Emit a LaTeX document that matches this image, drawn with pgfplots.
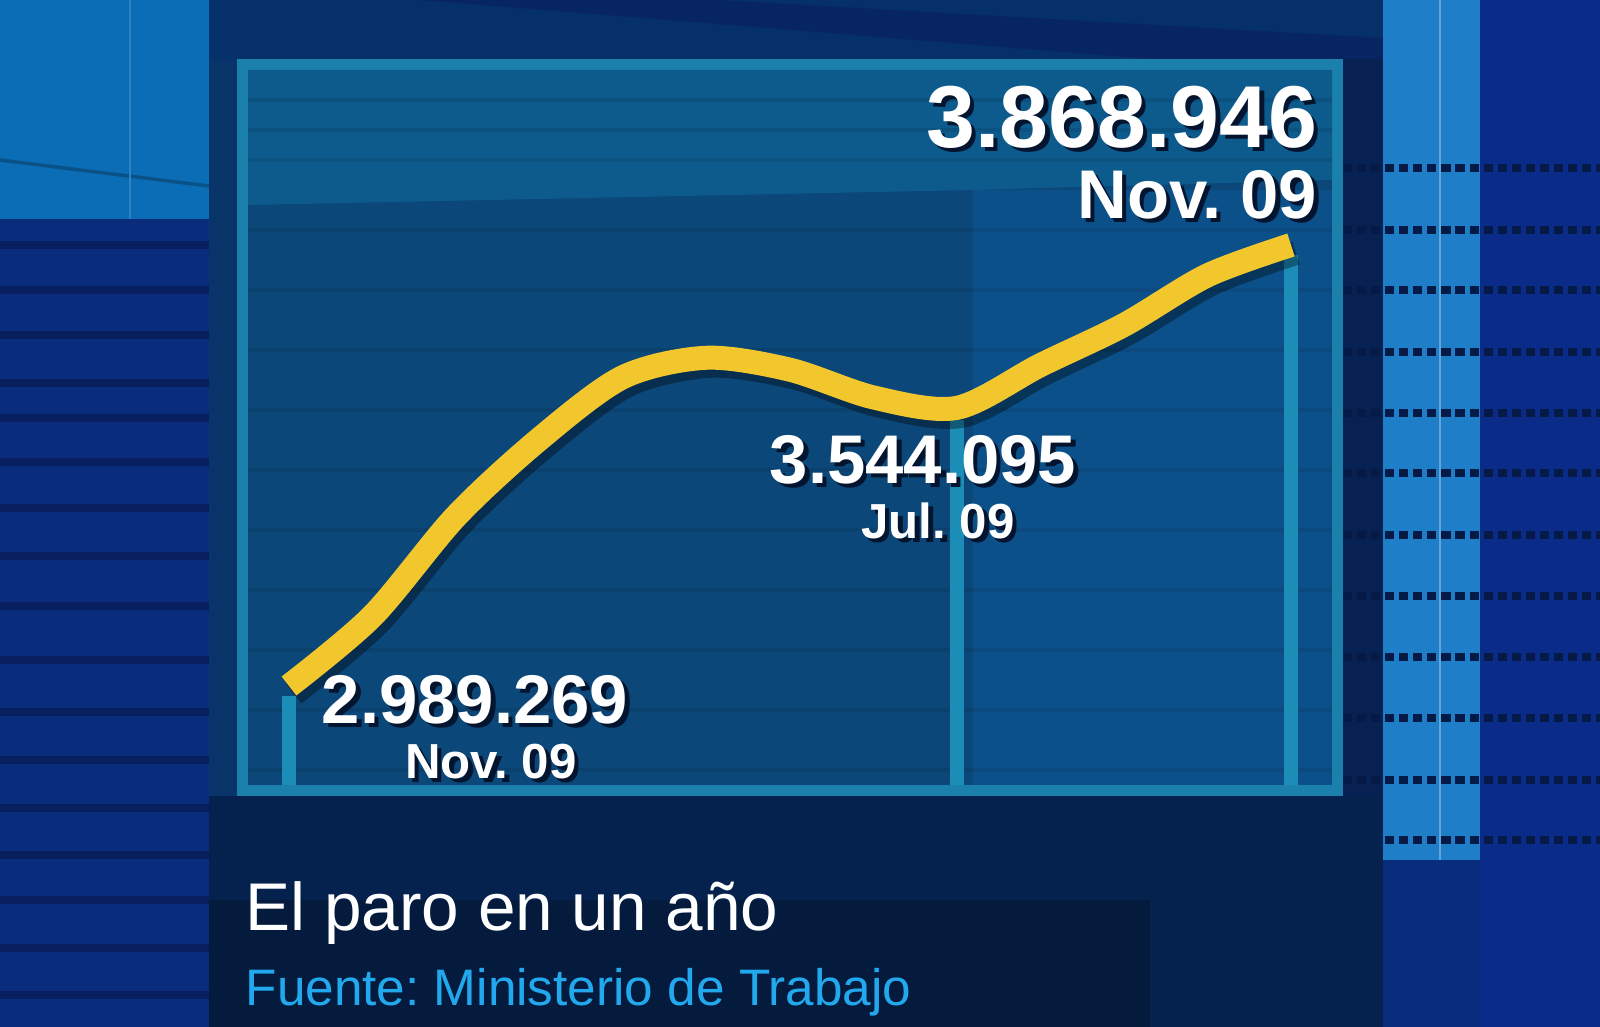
\documentclass[border=0pt]{standalone}
\usepackage{pgfplots}
\pgfplotsset{compat=1.18}
\usepackage{fontspec}
\setmainfont{Liberation Sans}
\frenchspacing
\definecolor{yel}{HTML}{F2C72E}
\definecolor{frame}{HTML}{1B80AC}
\definecolor{boxin}{HTML}{0B4778}
\definecolor{boxtop}{HTML}{0D5A8D}
\definecolor{boxright}{HTML}{0C5089}
\definecolor{vline}{HTML}{1C8DB6}
\definecolor{navy}{HTML}{0A2C7C}
\definecolor{navydark}{HTML}{071F5E}
\definecolor{lblue}{HTML}{0B6DB6}
\definecolor{mid}{HTML}{08346A}
\definecolor{midtop}{HTML}{06306A}
\definecolor{bottom}{HTML}{05214D}
\definecolor{rlight}{HTML}{1E7EC8}
\definecolor{rnavy}{HTML}{0A2C88}
\definecolor{dots}{HTML}{061A48}
\definecolor{fuente}{HTML}{22A8EC}
\definecolor{shad}{HTML}{03142E}
\newcommand{\stxt}[5]{%
  \node[anchor=#3,inner sep=0pt,text=white] at (#1,#2)
   {#4\makebox[0pt][l]{\hspace{0.45mm}\raisebox{-0.4mm}[0pt][0pt]{\color{shad}#5}}#5};}
\pgfplotstableread{
m v
0 2.989269
1 3.128963
2 3.327801
3 3.481859
4 3.605402
5 3.644041
6 3.620139
7 3.564889
8 3.544095
9 3.629322
10 3.709447
11 3.808353
12 3.868946
}\paro
\begin{document}
\begin{tikzpicture}
\begin{scope}[x=0.1mm,y=-0.1mm]
\useasboundingbox (0,0) rectangle (1600,1027);
\fill[navy] (0,0) rectangle (1600,1027);
% left top light panel
\fill[lblue] (0,0) rectangle (209,219);
\draw[lblue!75!black,line width=1pt] (0,160) -- (209,186);
\draw[lblue!85!white,line width=0.6pt] (130,0) -- (130,219);
% left stripes
\foreach \yy in {245,290,335,383,418,462,508,556,606,660,712,760,808,855,900,948,995}
  \draw[navydark,line width=2pt] (0,\yy) -- (209,\yy);
% middle column
\fill[mid] (209,0) rectangle (1383,800);
\fill[midtop] (209,0) rectangle (1383,59);
\fill[navydark,opacity=0.6] (420,0) -- (720,0) -- (1383,38) -- (1383,59) -- (1150,59) -- cycle;
% right columns
\fill[dots!70!mid] (1343,59) rectangle (1383,800);
\fill[rlight] (1383,0) rectangle (1480,860);
\draw[rlight!70!white,line width=0.6pt] (1440,0) -- (1440,860);
\fill[rnavy] (1480,0) rectangle (1600,1027);
\foreach \yy in {168,230,290,352,413,473,535,596,657,718,780,840}
  \draw[dots,line width=2pt,dash pattern=on 2.6pt off 1.4pt] (1343,\yy) -- (1600,\yy);
% bottom
\fill[bottom] (209,796) rectangle (1383,1027);
\fill[bottom!80!black] (209,900) rectangle (1150,1027);
% box
\fill[frame] (237,59) rectangle (1343,796);
\fill[boxin] (248,70) rectangle (1332,785);
\fill[boxright] (973,190) rectangle (1332,785);
\fill[boxtop] (248,70) -- (1332,70) -- (1332,180) -- (973,190) -- (248,205) -- cycle;
\foreach \yy in {100,130,160,230,290,350,410,470,530,590,650,710,770}
  \draw[black,opacity=0.08,line width=1pt] (248,\yy) -- (1332,\yy);
\end{scope}
\begin{axis}[at={(24.8mm,-78.5mm)}, anchor=south west, scale only axis,
  width=108.4mm, height=71.5mm, hide axis, clip=false,
  xmin=-0.491, xmax=12.491, ymin=2.79178, ymax=4.21804]
\addplot[vline, line width=1.4mm] coordinates {(0,2.79178) (0,2.97)};
\addplot[vline, line width=1.4mm] coordinates {(8,2.79178) (8,3.52)};
\addplot[vline, line width=1.4mm] coordinates {(12,2.79178) (12,3.85)};
\addplot[black, opacity=0.35, line width=2.4mm, smooth, xshift=0.5mm, yshift=-0.8mm] table[x=m,y=v] {\paro};
\addplot[yel, line width=2.4mm, smooth] table[x=m,y=v] {\paro};
\end{axis}
\begin{scope}[x=0.1mm,y=-0.1mm]
\stxt{1318}{148}{base east}{\fontsize{25}{30}\selectfont\bfseries}{3.868.946}
\stxt{1318}{219}{base east}{\fontsize{19.6}{24}\selectfont\bfseries}{Nov. 09}
\stxt{923}{483}{base}{\fontsize{19.6}{24}\selectfont\bfseries}{3.544.095}
\stxt{938}{538}{base}{\fontsize{14}{17}\selectfont\bfseries}{Jul. 09}
\stxt{475}{723}{base}{\fontsize{19.6}{24}\selectfont\bfseries}{2.989.269}
\stxt{491}{778}{base}{\fontsize{14}{17}\selectfont\bfseries}{Nov. 09}
\node[anchor=base west,inner sep=0pt,text=white,font=\fontsize{19.2}{22}\selectfont] at (245,930) {El paro en un año};
\node[anchor=base west,inner sep=0pt,text=fuente,font=\fontsize{14.6}{17}\selectfont] at (245,1005) {Fuente: Ministerio de Trabajo};
\end{scope}
\end{tikzpicture}
\end{document}
